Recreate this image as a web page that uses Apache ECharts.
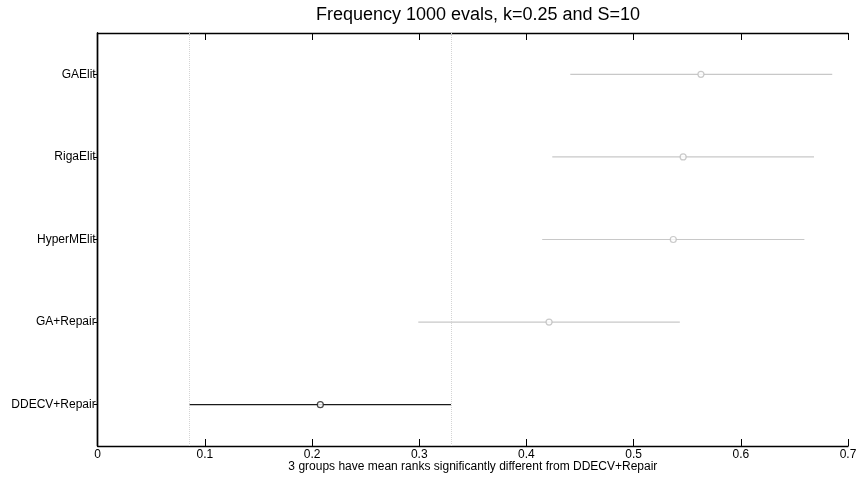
<!DOCTYPE html>
<html>
<head>
<meta charset="utf-8">
<script src="https://cdn.jsdelivr.net/npm/echarts@6/dist/echarts.min.js"></script>
<style>
html,body{margin:0;padding:0;background:#fff;}
#chart{width:856px;height:477px;}
</style>
</head>
<body>
<div id="chart"></div>
<script>
var groups = ["GAElit", "RigaElit", "HyperMElit", "GA+Repair", "DDECV+Repair"];
var means  = [0.5628, 0.5462, 0.5370, 0.4211, 0.2077];
var lows   = [0.4409, 0.4241, 0.4147, 0.2991, 0.0858];
var highs  = [0.6853, 0.6683, 0.6593, 0.5431, 0.3296];
var xTicks = [0, 0.1, 0.2, 0.3, 0.4, 0.5, 0.6, 0.7];
var selectedIndex = 4;
var titleText = "Frequency 1000 evals, k=0.25 and S=10";
var xLabel = "3 groups have mean ranks significantly different from DDECV+Repair";

var FONT = "'Liberation Sans', Arial, Helvetica, sans-serif";
var GREY = "#c8c8c8";
var DARK = "#1a1a1a";

var intervalData = groups.map(function (g, i) { return [lows[i], highs[i], i]; });
var meanData = groups.map(function (g, i) {
  return {
    value: [means[i], i],
    itemStyle: { borderColor: i === selectedIndex ? DARK : "#bdbdbd" }
  };
});

var chart = echarts.init(document.getElementById("chart"), null, { renderer: "canvas" });
chart.setOption({
  backgroundColor: "#fff",
  animation: false,
  title: {
    text: titleText,
    left: 473, textAlign: "center", top: 1,
    textStyle: { fontFamily: FONT, fontSize: 18, fontWeight: "normal", color: "#000" }
  },
  grid: { left: 97.7, right: 8, top: 33, bottom: 31, containLabel: false, outerBoundsMode: "none" },
  xAxis: [{
    type: "value", position: "bottom",
    min: xTicks[0], max: xTicks[xTicks.length - 1], interval: 0.1,
    axisLine: { show: true, onZero: false, lineStyle: { color: "#000", width: 1.4 } },
    axisTick: { show: true, inside: true, length: 7, lineStyle: { color: "#000", width: 1 } },
    axisLabel: { fontFamily: FONT, fontSize: 12, color: "#000", margin: 3 },
    splitLine: { show: false },
    name: xLabel, nameLocation: "middle", nameGap: 15, nameMoveOverlap: false,
    nameTextStyle: { fontFamily: FONT, fontSize: 12, color: "#000" }
  }, {
    type: "value", position: "top",
    min: xTicks[0], max: xTicks[xTicks.length - 1], interval: 0.1,
    axisLine: { show: true, onZero: false, lineStyle: { color: "#000", width: 1.4 } },
    axisTick: { show: true, inside: true, length: 7, lineStyle: { color: "#000", width: 1 } },
    axisLabel: { show: false },
    splitLine: { show: false }
  }],
  yAxis: [{
    type: "category", data: groups, inverse: true, position: "left",
    axisLine: { show: true, lineStyle: { color: "#000", width: 1.4 } },
    axisTick: { show: true, alignWithLabel: true, inside: false, length: 3, lineStyle: { color: "#000" } },
    axisLabel: { fontFamily: FONT, fontSize: 12, color: "#000", margin: 2 },
    splitLine: { show: false }
  }, {
    type: "category", data: groups, inverse: true, position: "right",
    axisLine: { show: true, lineStyle: { color: "#000", width: 1.4 } },
    axisTick: { show: true, alignWithLabel: true, inside: true, length: 4, lineStyle: { color: "#000" } },
    axisLabel: { show: false },
    splitLine: { show: false }
  }],
  series: [{
    type: "custom",
    xAxisIndex: 0, yAxisIndex: 0,
    data: intervalData,
    renderItem: function (params, api) {
      var idx = api.value(2);
      var p1 = api.coord([api.value(0), idx]);
      var p2 = api.coord([api.value(1), idx]);
      return {
        type: "line",
        shape: { x1: p1[0], y1: p1[1], x2: p2[0], y2: p2[1] },
        style: { stroke: idx === selectedIndex ? DARK : GREY, lineWidth: 1.2 }
      };
    },
    encode: { x: [0, 1], y: 2 },
    z: 2
  }, {
    type: "scatter",
    xAxisIndex: 0, yAxisIndex: 0,
    data: meanData,
    symbol: "circle", symbolSize: 6,
    itemStyle: { color: "#fff", borderWidth: 1.2 },
    z: 3,
    markLine: {
      silent: true, symbol: ["none", "none"], precision: 4,
      label: { show: false },
      lineStyle: { type: "dotted", color: "#d4d4d4", width: 1 },
      data: [{ xAxis: lows[selectedIndex] }, { xAxis: highs[selectedIndex] }]
    }
  }]
});
</script>
</body>
</html>
